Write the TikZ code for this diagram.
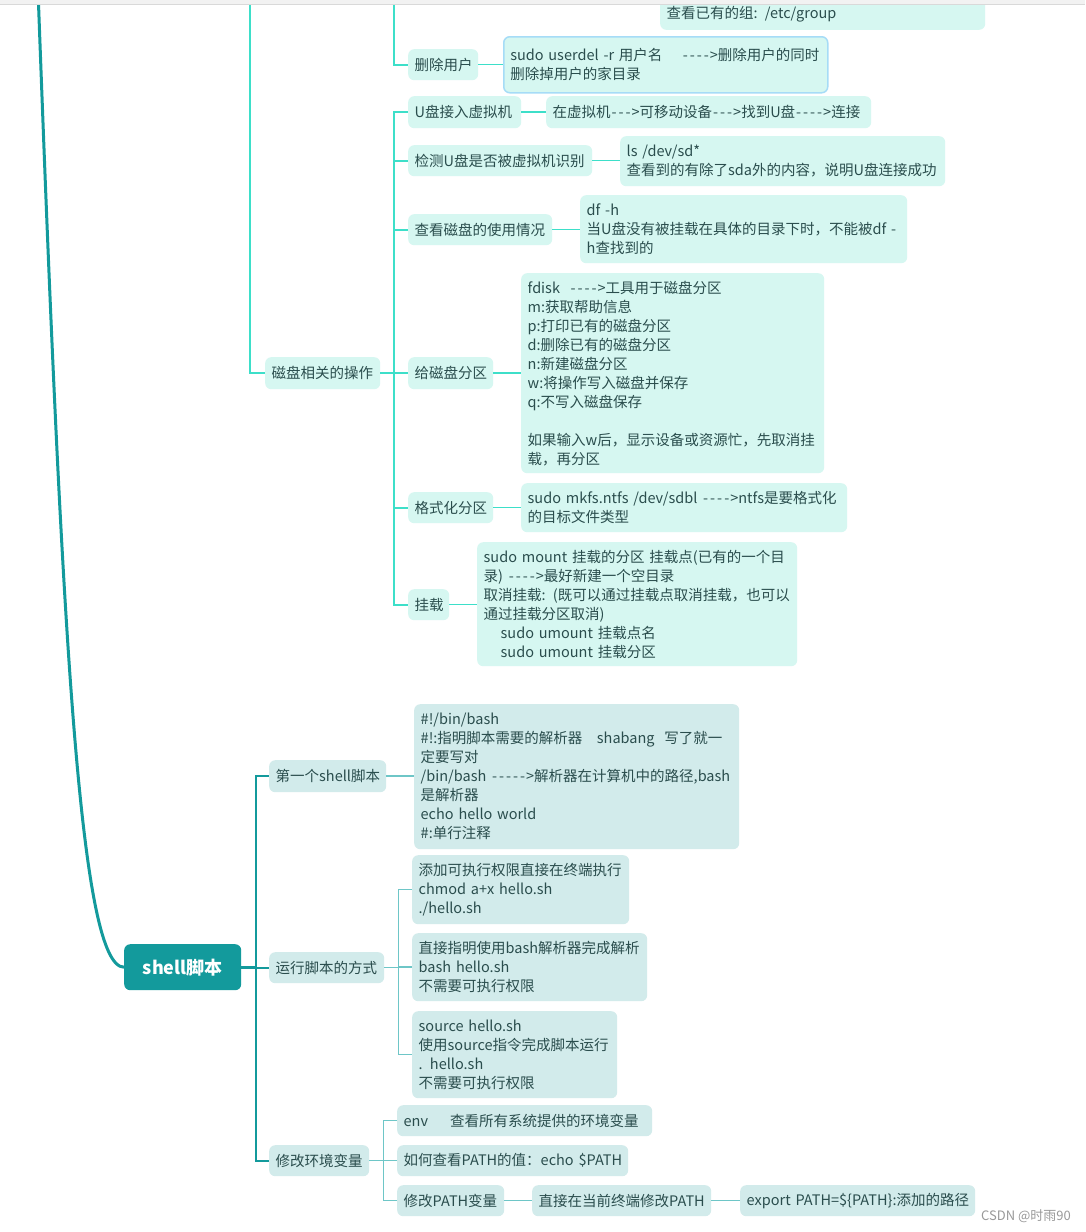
\documentclass[tikz,border=0pt]{standalone}
\usepackage{fontspec}
\newfontfamily\cjk{Noto Sans CJK SC}
\newcommand\dd{\makebox[7pt]{-}}
\definecolor{upF}{HTML}{D6F7F1}
\definecolor{loF}{HTML}{D2EBEB}
\definecolor{lineU}{HTML}{3DDFC9}
\definecolor{lineD}{HTML}{139A9C}
\definecolor{lineL}{HTML}{6EC6C7}
\definecolor{txt}{HTML}{2A4D4D}
\definecolor{selB}{HTML}{A6DCF7}
\tikzset{
  bx/.style={anchor=north west, rounded corners=6pt, inner xsep=6.5pt, inner ysep=0pt, align=left,
    text=txt, font=\cjk\fontsize{14.5}{19}\selectfont},
  ub/.style={bx, fill=upF},
  lb/.style={bx, fill=loF},
  uline/.style={draw=lineU, line width=2pt},
  ulineT/.style={draw=lineU, line width=2.5pt},
  uleaf/.style={draw=lineU, line width=1.5pt},
  dline/.style={draw=lineD, line width=2pt},
  dlineT/.style={draw=lineD, line width=3pt},
  lline/.style={draw=lineL, line width=1.5pt},
}
\begin{document}
\begin{tikzpicture}[x=1pt,y=-1pt]
\useasboundingbox (0,0) rectangle (1085,1232);
\clip (0,0) rectangle (1085,1232);
\fill[white] (0,0) rectangle (1085,1232);

% ---------- upper nodes ----------
\node[ub, anchor=south west, text width=312pt, minimum height=31pt] (grp) at (660,30) {\mbox{查看已有的组: /etc/group}};
\node[ub, text width=57pt, minimum height=31pt] (del) at (408,49) {\mbox{删除用户}};
\node[ub, text width=311pt, minimum height=56pt, draw=selB, line width=1.5pt] (delL) at (503,36) {\mbox{sudo userdel -r 用户名\ \ \ \ \dd\dd\dd\dd>删除用户的同时}\\删除掉用户的家目录};
\node[ub, text width=100pt, minimum height=32pt] (usb) at (408,96) {\mbox{U盘接入虚拟机}};
\node[ub, text width=312pt, minimum height=32pt] (usbL) at (546,96) {\mbox{在虚拟机\dd\dd\dd>可移动设备\dd\dd\dd>找到U盘\dd\dd\dd\dd>连接}};
\node[ub, text width=171pt, minimum height=31pt] (chk) at (408,145) {\mbox{检测U盘是否被虚拟机识别}};
\node[ub, text width=312pt, minimum height=50pt] (chkL) at (620,136) {ls /dev/sd*\\\mbox{查看到的有除了sda外的内容，说明U盘连接成功}};
\node[ub, text width=131pt, minimum height=31pt] (dfn) at (408,214) {\mbox{查看磁盘的使用情况}};
\node[ub, text width=314pt, minimum height=68pt] (dfL) at (580,195) {df -h\\\mbox{当U盘没有被挂载在具体的目录下时，不能被df -}\\h查找到的};
\node[ub, text width=102pt, minimum height=32pt] (disk) at (265,357) {\mbox{磁盘相关的操作}};
\node[ub, text width=72pt, minimum height=32pt] (part) at (408,357) {\mbox{给磁盘分区}};
\node[ub, text width=290pt, minimum height=200pt] (partL) at (521,273) {\mbox{fdisk\ \ \dd\dd\dd\dd>工具用于磁盘分区}\\m:获取帮助信息\\p:打印已有的磁盘分区\\d:删除已有的磁盘分区\\n:新建磁盘分区\\w:将操作写入磁盘并保存\\q:不写入磁盘保存\\[19pt]\mbox{如果输入w后，显示设备或资源忙，先取消挂}\\载，再分区};
\node[ub, text width=72pt, minimum height=31pt] (fmt) at (408,492) {\mbox{格式化分区}};
\node[ub, text width=313pt, minimum height=49pt] (fmtL) at (521,483) {\mbox{sudo mkfs.ntfs /dev/sdbl \dd\dd\dd\dd>ntfs是要格式化}\\的目标文件类型};
\node[ub, text width=28pt, minimum height=31pt] (mnt) at (408,589) {\mbox{挂载}};
\node[ub, text width=307pt, minimum height=124pt] (mntL) at (477,542) {\mbox{sudo mount 挂载的分区 挂载点(已有的一个目}\\\mbox{录) \dd\dd\dd\dd>最好新建一个空目录}\\\mbox{取消挂载: (既可以通过挂载点取消挂载，也可以}\\通过挂载分区取消)\\\hspace*{17pt}sudo umount 挂载点名\\\hspace*{17pt}sudo umount 挂载分区};

% ---------- lower nodes ----------
\node[bx, fill=lineD, text=white, align=center, text width=104pt, minimum height=46pt,
  font=\cjk\fontsize{18}{22}\selectfont\bfseries] (shell) at (124,944) {shell脚本};
\node[lb, text width=104pt, minimum height=32pt] (first) at (269,760) {\mbox{第一个shell脚本}};
\node[lb, text width=312pt, minimum height=145pt] (firstL) at (414,704) {\#!/bin/bash\\\mbox{\#!:指明脚本需要的解析器\ \ \ shabang\ \ 写了就一}\\定要写对\\\mbox{/bin/bash \dd\dd\dd\dd\dd>解析器在计算机中的路径,bash}\\是解析器\\echo hello world\\\#:单行注释};
\node[lb, text width=102pt, minimum height=31pt] (run) at (269,952) {\mbox{运行脚本的方式}};
\node[lb, text width=204pt, minimum height=69pt] (r1) at (412,855) {\mbox{添加可执行权限直接在终端执行}\\chmod a+x hello.sh\\./hello.sh};
\node[lb, text width=222pt, minimum height=68pt] (r2) at (412,933) {\mbox{直接指明使用bash解析器完成解析}\\bash hello.sh\\不需要可执行权限};
\node[lb, text width=192pt, minimum height=87pt] (r3) at (412,1011) {source hello.sh\\\mbox{使用source指令完成脚本运行}\\. hello.sh\\不需要可执行权限};
\node[lb, text width=87pt, minimum height=31pt] (envn) at (269,1145) {\mbox{修改环境变量}};
\node[lb, text width=242pt, minimum height=31pt] (e1) at (397,1105) {\mbox{env\hspace{22pt}查看所有系统提供的环境变量}};
\node[lb, text width=218pt, minimum height=31pt] (e2) at (397,1145) {\mbox{如何查看PATH的值：echo \$PATH}};
\node[lb, text width=94pt, minimum height=31pt] (e3) at (397,1185) {\mbox{修改PATH变量}};
\node[lb, text width=166pt, minimum height=31pt] (e3a) at (532,1185) {\mbox{直接在当前终端修改PATH}};
\node[lb, text width=222pt, minimum height=31pt] (e3b) at (740,1185) {\mbox{export PATH=\$\{PATH\}:添加的路径}};

\node[anchor=east, inner sep=0pt, text=black!40, font=\cjk\fontsize{13}{15}\selectfont] (wm) at (1071,1216) {CSDN @时雨90};

% ---------- connectors: upper ----------
\coordinate (t1) at (38,-10);
\coordinate (t2) at (250,-10);
\coordinate (t3) at (394,-10);
\draw[dlineT] (t1) .. controls (62,640) and (80,967) .. (shell.west);
\draw[ulineT] (t2) |- (disk.west);
\draw[uline] (t3) |- (del.west);
\foreach \c in {usb,chk,dfn,part,fmt,mnt}{
  \draw[uline] (disk.east) -- ++(14,0) |- (\c.west);
}
\draw[uleaf] (del.east) -- (del.east -| delL.west);
\draw[uleaf] (usb.east) -- (usb.east -| usbL.west);
\draw[uleaf] (chk.east) -- (chk.east -| chkL.west);
\draw[uleaf] (dfn.east) -- (dfn.east -| dfL.west);
\draw[uleaf] (part.east) -- (part.east -| partL.west);
\draw[uleaf] (fmt.east) -- (fmt.east -| fmtL.west);
\draw[uleaf] (mnt.east) -- (mnt.east -| mntL.west);

% ---------- connectors: lower ----------
\draw[dlineT] (shell.east) -- ++(15,0);
\foreach \c in {first,run,envn}{
  \draw[dline] (shell.east) ++(15,0) |- (\c.west);
}
\draw[lline] (first.east) -- (first.east -| firstL.west);
\foreach \c in {r1,r2,r3}{
  \draw[lline] (run.east) -- ++(14,0) |- (\c.west);
}
\foreach \c in {e1,e2,e3}{
  \draw[lline] (envn.east) -- ++(14,0) |- (\c.west);
}
\draw[lline] (e3.east) -- (e3a.west);
\draw[lline] (e3a.east) -- (e3b.west);

% ---------- top bar ----------
\fill[black!5] (0,0) rectangle (1085,4);
\draw[black!15, line width=0.8pt] (0,4.4) -- (1085,4.4);
\end{tikzpicture}
\end{document}
